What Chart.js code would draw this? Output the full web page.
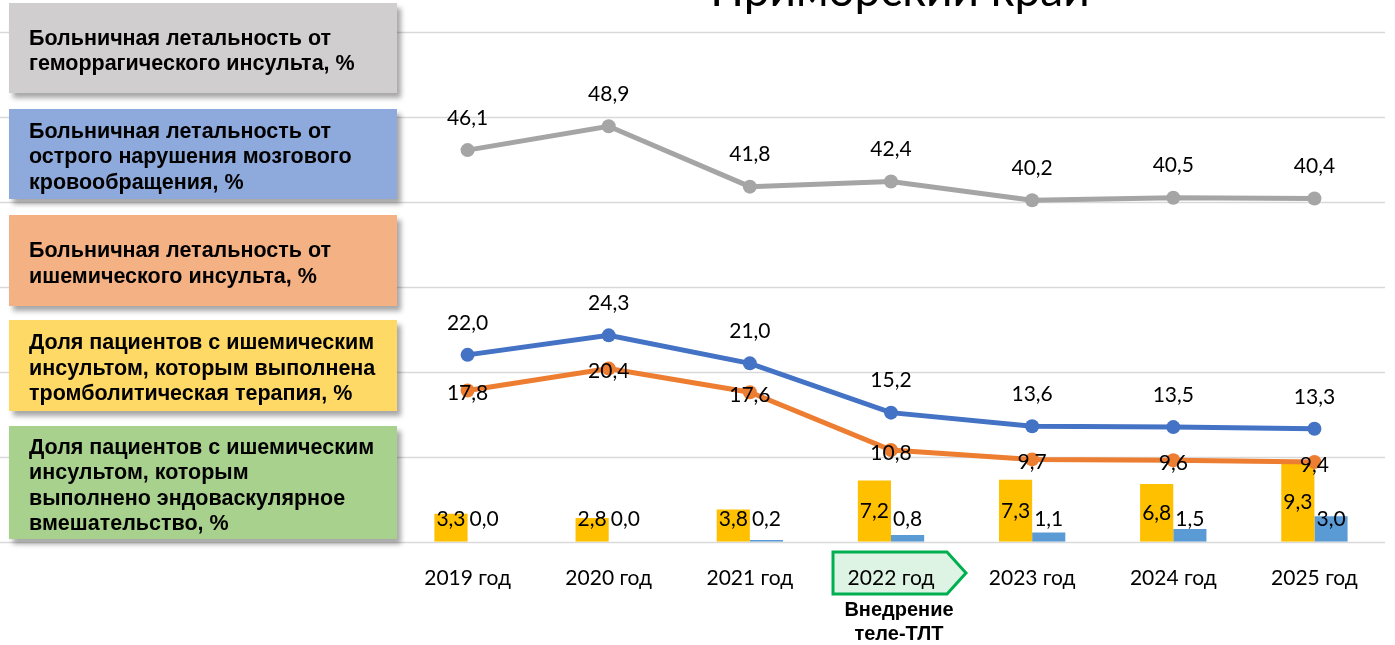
<!DOCTYPE html>
<html lang="ru">
<head>
<meta charset="utf-8">
<script src="https://cdn.jsdelivr.net/npm/chart.js@4"></script>
<style>
  html, body { margin: 0; padding: 0; background: #fff; }
  #wrap { position: relative; width: 1395px; height: 645px; overflow: hidden; }
  #chart { position: absolute; left: 0; top: 0; }
  .box {
    position: absolute; left: 9px; width: 388px;
    display: flex; align-items: center;
    box-sizing: border-box; padding-left: 20px; padding-top: 6px;
    font-family: "Liberation Sans", Arial, sans-serif; font-weight: bold;
    font-size: 21.5px; line-height: 25.5px; color: #000;
    box-shadow: 4px 5px 5px rgba(0,0,0,0.35);
  }
</style>
</head>
<body>
<div id="wrap">
  <canvas id="chart" width="1395" height="645"></canvas>
  <div class="box" style="top:3px;height:90px;background:#D0CECE">Больничная летальность от<br>геморрагического инсульта, %</div>
  <div class="box" style="top:109px;height:90px;background:#8EA9DB">Больничная летальность от<br>острого нарушения мозгового<br>кровообращения, %</div>
  <div class="box" style="top:215px;height:91px;background:#F4B183">Больничная летальность от<br>ишемического инсульта, %</div>
  <div class="box" style="top:320px;height:91px;background:#FFD966">Доля пациентов с ишемическим<br>инсультом, которым выполнена<br>тромболитическая терапия, %</div>
  <div class="box" style="top:426px;height:113px;background:#A9D18E">Доля пациентов с ишемическим<br>инсультом, которым<br>выполнено эндоваскулярное<br>вмешательство, %</div>
</div>
<script>
// categories and series
const years = ['2019 год', '2020 год', '2021 год', '2022 год', '2023 год', '2024 год', '2025 год'];
const hemorrhagic = [46.1, 48.9, 41.8, 42.4, 40.2, 40.5, 40.4];
const acuteStroke = [22.0, 24.3, 21.0, 15.2, 13.6, 13.5, 13.3];
const ischemic = [17.8, 20.4, 17.6, 10.8, 9.7, 9.6, 9.4];
const thrombolysis = [3.3, 2.8, 3.8, 7.2, 7.3, 6.8, 9.3];
const endovascular = [0.0, 0.0, 0.2, 0.8, 1.1, 1.5, 3.0];
const yMax = 60, yStep = 10;
const titleText = 'Приморский край';
const markIndex = 3;
const markNote = ['Внедрение', 'теле-ТЛТ'];

const fmt = v => v.toFixed(1).replace('.', ',');
const labelFont = '21px Lato';

// gridlines run under the legend boxes to the left edge
const gridPlugin = {
  id: 'gridFull',
  beforeDatasetsDraw(chart) {
    const { ctx, chartArea, scales } = chart;
    ctx.save();
    ctx.strokeStyle = '#D9D9D9';
    ctx.lineWidth = 1.5;
    for (let v = 0; v <= yMax; v += yStep) {
      const y = Math.round(scales.y.getPixelForValue(v)) + 0.5;
      ctx.beginPath();
      ctx.moveTo(0, y);
      ctx.lineTo(chartArea.right, y);
      ctx.stroke();
    }
    ctx.restore();
  }
};

// title, 2022 callout box and note
const decoPlugin = {
  id: 'deco',
  beforeDraw(chart) {
    const { ctx, scales } = chart;
    const x = scales.x.getPixelForValue(markIndex);
    ctx.save();
    ctx.beginPath();
    ctx.moveTo(x - 58, 552);
    ctx.lineTo(x + 56, 552);
    ctx.lineTo(x + 75, 573);
    ctx.lineTo(x + 56, 594);
    ctx.lineTo(x - 58, 594);
    ctx.closePath();
    ctx.fillStyle = '#DDF3E4';
    ctx.fill();
    ctx.strokeStyle = '#00B050';
    ctx.lineWidth = 3;
    ctx.stroke();
    ctx.restore();
  },
  afterDraw(chart) {
    const { ctx, scales } = chart;
    const x = scales.x.getPixelForValue(markIndex);
    ctx.save();
    ctx.fillStyle = '#000';
    ctx.textAlign = 'center';
    ctx.textBaseline = 'alphabetic';
    ctx.font = '46px Lato';
    ctx.fillText(titleText, 900, 6);
    ctx.font = 'bold 20px "Liberation Sans"';
    ctx.textBaseline = 'middle';
    ctx.fillText(markNote[0], x + 8, 610);
    ctx.fillText(markNote[1], x + 8, 634);
    ctx.restore();
  }
};

// value labels
const labelPlugin = {
  id: 'valueLabels',
  afterDatasetsDraw(chart) {
    const { ctx } = chart;
    ctx.save();
    ctx.font = labelFont;
    ctx.fillStyle = '#000';
    ctx.textAlign = 'center';
    ctx.textBaseline = 'middle';
    chart.data.datasets.forEach((ds, i) => {
      const meta = chart.getDatasetMeta(i);
      meta.data.forEach((el, j) => {
        const v = ds.data[j];
        let y;
        if (ds.labelPos === 'above') y = el.y - 32;
        else if (ds.labelPos === 'on') y = el.y + 3;
        else if (ds.labelPos === 'center') y = Math.min((el.y + el.base) / 2, el.base - 23);
        else y = el.base - 23;
        ctx.fillText(fmt(v), el.x, y);
      });
    });
    ctx.restore();
  }
};

const lineStyle = (color) => ({
  type: 'line',
  borderColor: color,
  backgroundColor: color,
  borderWidth: 5,
  pointRadius: 7,
  pointHoverRadius: 7,
  pointBackgroundColor: color,
  pointBorderWidth: 0,
  tension: 0,
  order: 0
});

new Chart(document.getElementById('chart'), {
  data: {
    labels: years,
    datasets: [
      { ...lineStyle('#A5A5A5'), data: hemorrhagic, labelPos: 'above' },
      { ...lineStyle('#4472C4'), data: acuteStroke, labelPos: 'above' },
      { ...lineStyle('#ED7D31'), data: ischemic, labelPos: 'on' },
      { type: 'bar', data: thrombolysis, backgroundColor: '#FFC000', categoryPercentage: 0.47, barPercentage: 1, order: 1, labelPos: 'center' },
      { type: 'bar', data: endovascular, backgroundColor: '#5B9BD5', categoryPercentage: 0.47, barPercentage: 1, order: 1, labelPos: 'top' }
    ]
  },
  options: {
    responsive: false,
    animation: false,
    layout: { padding: { left: 397, right: 10, top: 32, bottom: 38 } },
    plugins: { legend: { display: false }, tooltip: { enabled: false } },
    scales: {
      x: {
        grid: { display: false },
        border: { display: false },
        ticks: { font: { family: 'Lato', size: 21 }, color: '#000', padding: 16, maxRotation: 0 }
      },
      y: {
        display: false,
        min: 0, max: yMax,
        ticks: { stepSize: yStep }
      }
    }
  },
  plugins: [gridPlugin, decoPlugin, labelPlugin]
});
</script>
</body>
</html>
